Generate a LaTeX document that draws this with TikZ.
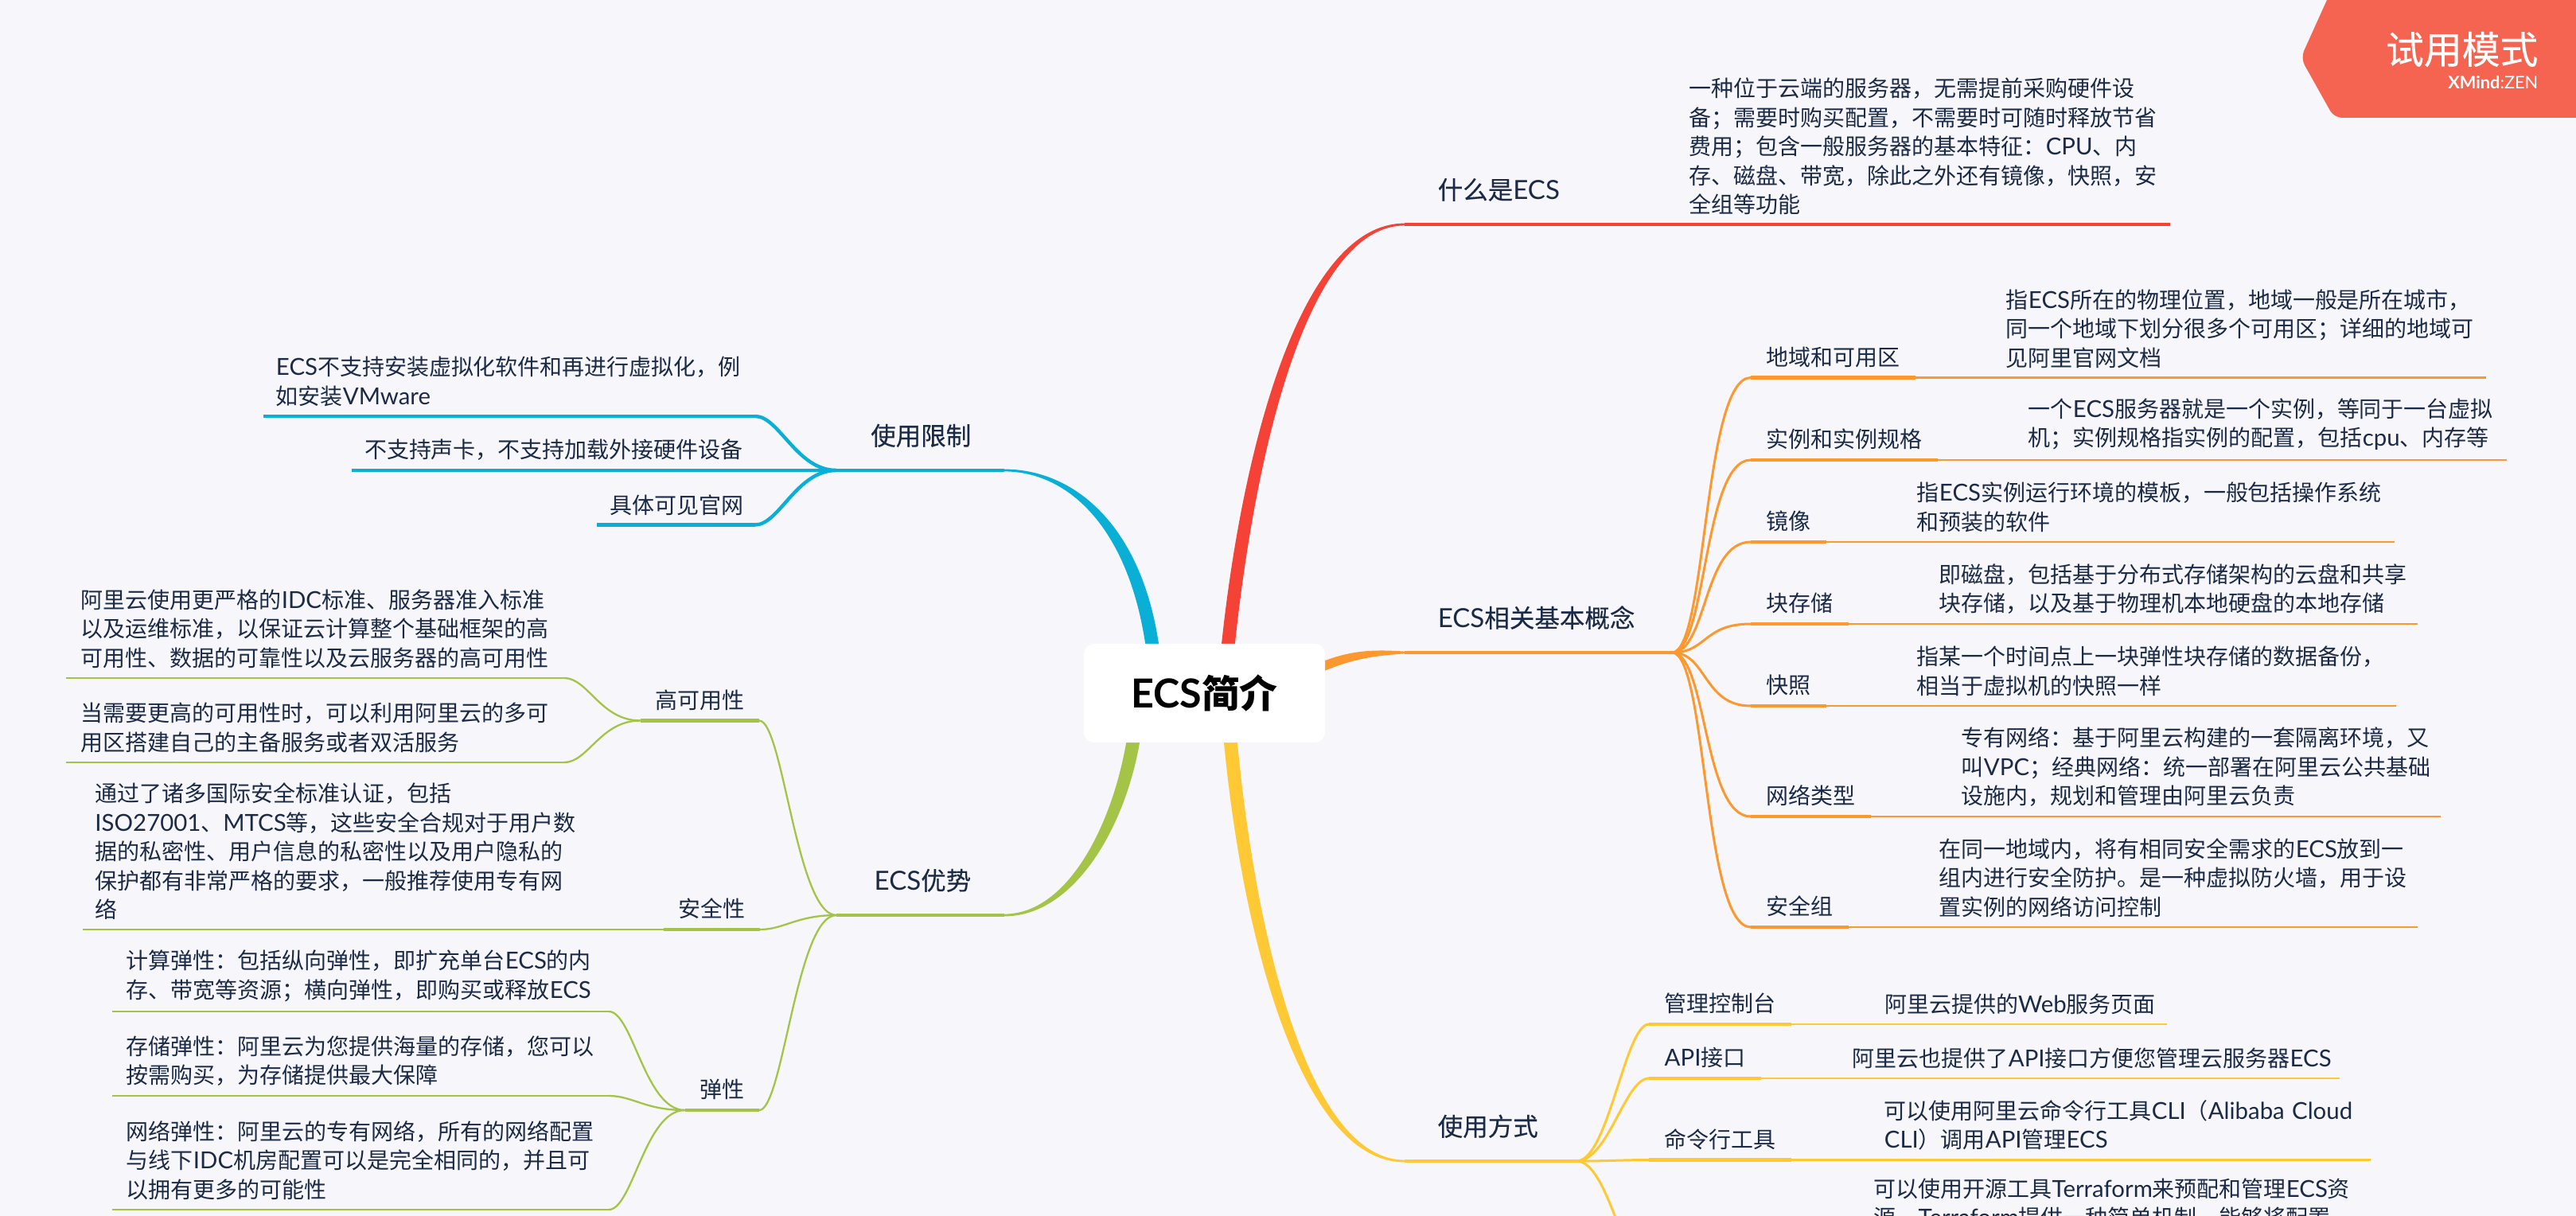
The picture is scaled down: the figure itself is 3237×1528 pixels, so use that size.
\documentclass[tikz,border=0pt]{standalone}
\usepackage{fontspec}
\setmainfont{Noto Sans CJK SC}
\newfontfamily\latinfont[Scale=1.05]{Lato}
\newfontfamily\topicfont[FakeBold=0.25]{Noto Sans CJK SC}
\newcommand{\la}[1]{{\latinfont #1}}
\usetikzlibrary{backgrounds,calc}
\definecolor{paper}{HTML}{F6F6FB}
\definecolor{ink}{HTML}{1B2A45}
\definecolor{redlimb}{HTML}{F44336}
\definecolor{orangelimb}{HTML}{FC982E}
\definecolor{yellowlimb}{HTML}{FFC835}
\definecolor{greenlimb}{HTML}{A3C447}
\definecolor{bluelimb}{HTML}{0AAFD5}
\definecolor{trial}{HTML}{F56450}
\tikzset{
  topic/.style={text=ink, inner xsep=.41cm, inner ysep=.31cm, text depth=0pt, font=\fontsize{8.96}{11}\topicfont},
  subtopic/.style={text=ink, inner xsep=.19cm, inner ysep=.145cm, text depth=0pt, font=\fontsize{7.96}{10.38}\selectfont},
  leaf/.style={text=ink, align=left, text width=#1, inner xsep=.15cm, inner ysep=.115cm, font=\fontsize{7.96}{10.38}\selectfont},
  trunk/.style={line width=1.25pt},
  bough/.style={line width=.85pt},
  twig/.style={line width=.65pt},
  toright/.style={out=0, in=180, out distance=.44cm, in distance=.6cm},
  toleft/.style={out=180, in=0, out distance=.5cm, in distance=.3cm}
}
% tapered main branch: colour, root end, two controls, far end, half width
\newcommand{\mainlimb}[7]{\filldraw[#1, line width=.8pt]
  ([shift={(#6,#7)}]#2) .. controls ([shift={(#6,#7)}]#3) and ([shift={(#6*.5,#7*.5)}]#4) .. (#5)
  .. controls ([shift={(-#6*.5,-#7*.5)}]#4) and ([shift={(-#6,-#7)}]#3) .. ([shift={(-#6,-#7)}]#2) -- cycle;}

\begin{document}
\begin{tikzpicture}[x=.01cm, y=-.01cm]
  \useasboundingbox (0,0) rectangle (3237,1528);
  \node[fill=white, rounded corners=.13cm, minimum width=3.03cm, minimum height=1.24cm, font=\fontsize{13.6}{16}\selectfont\bfseries] (root) at (1513.5,871) {\la{ECS}简介};

  \node[topic, anchor=south west] (whatis) at (1765,282) {什么是\la{ECS}};
  \node[topic, anchor=south west] (concepts) at (1765,820) {\la{ECS}相关基本概念};
  \node[topic, anchor=south west] (usage) at (1765,1459) {使用方式};
  \node[topic, anchor=south east] (limits) at (1262,591) {使用限制};
  \node[topic, anchor=south east] (merits) at (1262,1150) {\la{ECS}优势};

  \coordinate (redroot) at ($(root.north)+(30,0)$);
  \coordinate (orangeroot) at ($(root.east)+(-26,-23)$);
  \coordinate (yellowroot) at ($(root.south)+(33,0)$);
  \coordinate (greenroot) at ($(root.south)+(-90,0)$);
  \coordinate (blueroot) at ($(root.north)+(-66,0)$);
  \coordinate (conceptshub) at (2101,820);
  \coordinate (usagehub) at (1981,1459);
  \coordinate (limitshub) at (1051,591);
  \coordinate (meritshub) at (1051,1150);
  \coordinate (usagemore) at (2070,1597);

  \begin{pgfonlayer}{background}
    \fill[paper] (0,0) rectangle (3237,1528);
    \mainlimb{redlimb}{redroot}{1570,560}{1640,282}{whatis.south west}{7}{0}
    \mainlimb{orangelimb}{orangeroot}{1690,822}{1725,820}{concepts.south west}{0}{5}
    \mainlimb{yellowlimb}{yellowroot}{1570,1180}{1640,1459}{usage.south west}{7}{0}
    \mainlimb{greenlimb}{greenroot}{1405,1040}{1345,1150}{merits.south east}{7}{0}
    \mainlimb{bluelimb}{blueroot}{1425,660}{1345,591}{limits.south east}{7}{0}
  \end{pgfonlayer}

  % what is
  \node[leaf=5.88cm, anchor=south east] (whatisleaf) at (2727,282) {一种位于云端的服务器，无需提前采购硬件设\\备；需要时购买配置，不需要时可随时释放节省\\费用；包含一般服务器的基本特征：\la{CPU}、内\\存、磁盘、带宽，除此之外还有镜像，快照，安\\全组等功能};
  \draw[redlimb, trunk] (whatis.south west) -- (whatisleaf.south east);

  % concepts
  \begin{scope}[orangelimb]
    \node[subtopic, anchor=south west] (region) at (2200,474.5) {地域和可用区};
    \node[subtopic, anchor=south west] (instance) at (2200,578) {实例和实例规格};
    \node[subtopic, anchor=south west] (image) at (2200,681) {镜像};
    \node[subtopic, anchor=south west] (block) at (2200,784) {块存储};
    \node[subtopic, anchor=south west] (snapshot) at (2200,887) {快照};
    \node[subtopic, anchor=south west] (network) at (2200,1026) {网络类型};
    \node[subtopic, anchor=south west] (secgroup) at (2200,1165) {安全组};
    \node[leaf=5.87cm, anchor=south east] (regionleaf) at (3124,474.5) {指\la{ECS}所在的物理位置，地域一般是所在城市，\\同一个地域下划分很多个可用区；详细的地域可\\见阿里官网文档};
    \node[leaf=5.85cm, anchor=south east] (instanceleaf) at (3150,578) {一个\la{ECS}服务器就是一个实例，等同于一台虚拟\\机；实例规格指实例的配置，包括\la{cpu}、内存等};
    \node[leaf=5.84cm, anchor=south east] (imageleaf) at (3009,681) {指\la{ECS}实例运行环境的模板，一般包括操作系统\\和预装的软件};
    \node[leaf=5.85cm, anchor=south east] (blockleaf) at (3038,784) {即磁盘，包括基于分布式存储架构的云盘和共享\\块存储，以及基于物理机本地硬盘的本地存储};
    \node[leaf=5.86cm, anchor=south east] (snapshotleaf) at (3011,887) {指某一个时间点上一块弹性块存储的数据备份，\\相当于虚拟机的快照一样};
    \node[leaf=5.86cm, anchor=south east] (networkleaf) at (3067,1026) {专有网络：基于阿里云构建的一套隔离环境，又\\叫\la{VPC}；经典网络：统一部署在阿里云公共基础\\设施内，规划和管理由阿里云负责};
    \node[leaf=5.85cm, anchor=south east] (secgroupleaf) at (3038,1165) {在同一地域内，将有相同安全需求的\la{ECS}放到一\\组内进行安全防护。是一种虚拟防火墙，用于设\\置实例的网络访问控制};
    \draw[trunk] (concepts.south west) -- (conceptshub);
    \foreach \name in {region,instance,image,block,snapshot,network,secgroup}{
      \draw[bough] (conceptshub) to[toright] (\name.south west);
      \draw[trunk] (\name.south west) -- (\name.south east);
      \draw[twig] (\name.south east) -- (\name leaf.south east);
    }
  \end{scope}

  % usage
  \begin{scope}[yellowlimb, toright/.append style={out distance=.4cm, in distance=.3cm}]
    \node[subtopic, anchor=south west] (console) at (2072,1287) {管理控制台};
    \node[subtopic, anchor=south west] (api) at (2072,1355) {\la{API}接口};
    \node[subtopic, anchor=south west] (cli) at (2072,1457.5) {命令行工具};
    \node[leaf=3.39cm, anchor=south east] (consoleleaf) at (2723,1287) {阿里云提供的\la{Web}服务页面};
    \node[leaf=5.96cm, anchor=south east] (apileaf) at (2940,1355) {阿里云也提供了\la{API}接口方便您管理云服务器\la{ECS}};
    \node[leaf=5.95cm, anchor=south east] (clileaf) at (2979,1457.5) {可以使用阿里云命令行工具\la{CLI}（\la{Alibaba Cloud}\\\la{CLI}）调用\la{API}管理\la{ECS}};
    \node[leaf=5.95cm, anchor=north west, inner ysep=0pt] (terraformleaf) at (2339,1480) {可以使用开源工具\la{Terraform}来预配和管理\la{ECS}资\\源，\la{Terraform}提供一种简单机制，能够将配置};
    \draw[trunk] (usage.south west) -- (usagehub);
    \foreach \name in {console,api,cli}{
      \draw[bough] (usagehub) to[toright] (\name.south west);
      \draw[trunk] (\name.south west) -- (\name.south east);
      \draw[twig] (\name.south east) -- (\name leaf.south east);
    }
    \draw[bough] (usagehub) to[toright] (usagemore);
  \end{scope}

  % limits
  \begin{scope}[bluelimb]
    \node[leaf=5.86cm, anchor=south east] (novirt) at (949,523) {\la{ECS}不支持安装虚拟化软件和再进行虚拟化，例\\如安装\la{VMware}};
    \node[leaf=4.75cm, anchor=south east] (nocard) at (949,591) {不支持声卡，不支持加载外接硬件设备};
    \node[leaf=1.67cm, anchor=south east] (seesite) at (949,659.5) {具体可见官网};
    \draw[trunk] (limits.south east) -- (limitshub);
    \foreach \name in {novirt,nocard,seesite}{
      \draw[trunk] (limitshub) to[toleft] (\name.south east);
      \draw[trunk] (\name.south east) -- (\name.south west);
    }
  \end{scope}

  % merits
  \begin{scope}[greenlimb]
    \node[subtopic, anchor=south east, inner xsep=.18cm] (avail) at (954,905.5) {高可用性};
    \node[subtopic, anchor=south east, inner xsep=.18cm] (safety) at (955,1168) {安全性};
    \node[subtopic, anchor=south east, inner xsep=.18cm] (elastic) at (954,1395) {弹性};
    \node[leaf=5.88cm, anchor=south east, inner xsep=.18cm] (availone) at (709,852) {阿里云使用更严格的\la{IDC}标准、服务器准入标准\\以及运维标准，以保证云计算整个基础框架的高\\可用性、数据的可靠性以及云服务器的高可用性};
    \node[leaf=5.88cm, anchor=south east, inner xsep=.18cm] (availtwo) at (709,958) {当需要更高的可用性时，可以利用阿里云的多可\\用区搭建自己的主备服务或者双活服务};
    \node[leaf=6.98cm, anchor=south east] (safetyleaf) at (safety.south west) {通过了诸多国际安全标准认证，包括\\\la{ISO27001}、\la{MTCS}等，这些安全合规对于用户数\\据的私密性、用户信息的私密性以及用户隐私的\\保护都有非常严格的要求，一般推荐使用专有网\\络};
    \node[leaf=5.88cm, anchor=south east, inner xsep=.17cm] (elasticone) at (765,1271) {计算弹性：包括纵向弹性，即扩充单台\la{ECS}的内\\存、带宽等资源；横向弹性，即购买或释放\la{ECS}};
    \node[leaf=5.88cm, anchor=south east, inner xsep=.17cm] (elastictwo) at (765,1377) {存储弹性：阿里云为您提供海量的存储，您可以\\按需购买，为存储提供最大保障};
    \node[leaf=5.88cm, anchor=south east, inner xsep=.17cm] (elasticthree) at (765,1520) {网络弹性：阿里云的专有网络，所有的网络配置\\与线下\la{IDC}机房配置可以是完全相同的，并且可\\以拥有更多的可能性};
    \draw[trunk] (merits.south east) -- (meritshub);
    \foreach \name in {avail,safety,elastic}{
      \draw[twig] (meritshub) to[toleft] (\name.south east);
      \draw[trunk] (\name.south east) -- (\name.south west);
    }
    \foreach \name in {availone,availtwo}{
      \draw[twig] (avail.south west) to[toleft] (\name.south east);
      \draw[twig] (\name.south east) -- (\name.south west);
    }
    \draw[twig] (safety.south west) -- (safetyleaf.south west);
    \foreach \name in {elasticone,elastictwo,elasticthree}{
      \draw[twig] (elastic.south west) to[toleft] (\name.south east);
      \draw[twig] (\name.south east) -- (\name.south west);
    }
  \end{scope}

  % trial badge
  \fill[trial, rounded corners=.1cm] (2933,-20) -- (2891,73) -- (2933,148) -- (3260,148) -- (3260,-20) -- cycle;
  \node[anchor=east, inner sep=0pt, text=white, font=\fontsize{13.6}{16}\topicfont] (trialtext) at (3190,62) {试用模式};
  \node[anchor=east, inner sep=0pt, text=white, font=\fontsize{5.9}{7}\latinfont] (brand) at (3190,103.5) {\textbf{XMind}:ZEN};
\end{tikzpicture}
\end{document}
